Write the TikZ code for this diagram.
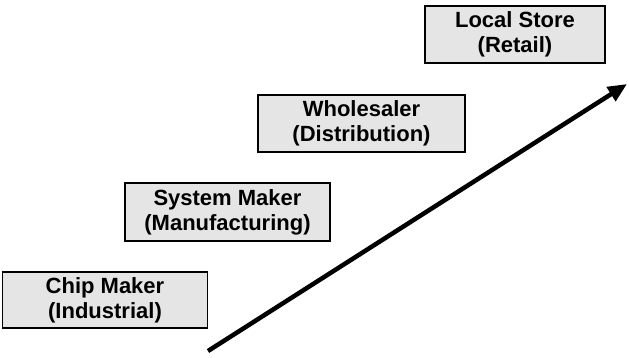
\documentclass[tikz,border=0pt]{standalone}
\usepackage{fontspec}
\setmainfont{Liberation Sans}
\usetikzlibrary{arrows.meta}
\tikzstyle{stagebox} = [draw,line width=1.4pt,fill=black!10,font=\bfseries\fontsize{22}{25}\selectfont,align=center,minimum height=57pt,inner sep=0pt,outer sep=0pt]

\begin{document}
\begin{tikzpicture}[x=1pt,y=-1pt]
		\useasboundingbox (0,0) rectangle (629,357);

		\node[stagebox,minimum width=205pt,minimum height=56pt] (chip) at (105,300) {Chip Maker\\(Industrial)};
		\node[stagebox,minimum width=205pt,minimum height=58pt] (system) at (227.5,212) {System Maker\\(Manufacturing)};
		\node[stagebox,minimum width=207pt] (wholesaler) at (361.5,123.5) {Wholesaler\\(Distribution)};
		\node[stagebox,minimum width=180pt] (store) at (515,34.5) {Local Store\\(Retail)};

		\coordinate (low) at (208,351);
		\coordinate (high) at (627,84);
		\draw[-{Triangle[length=19pt,width=16pt]},line width=4.5pt] (low) -- (high);
	\end{tikzpicture}
\end{document}
